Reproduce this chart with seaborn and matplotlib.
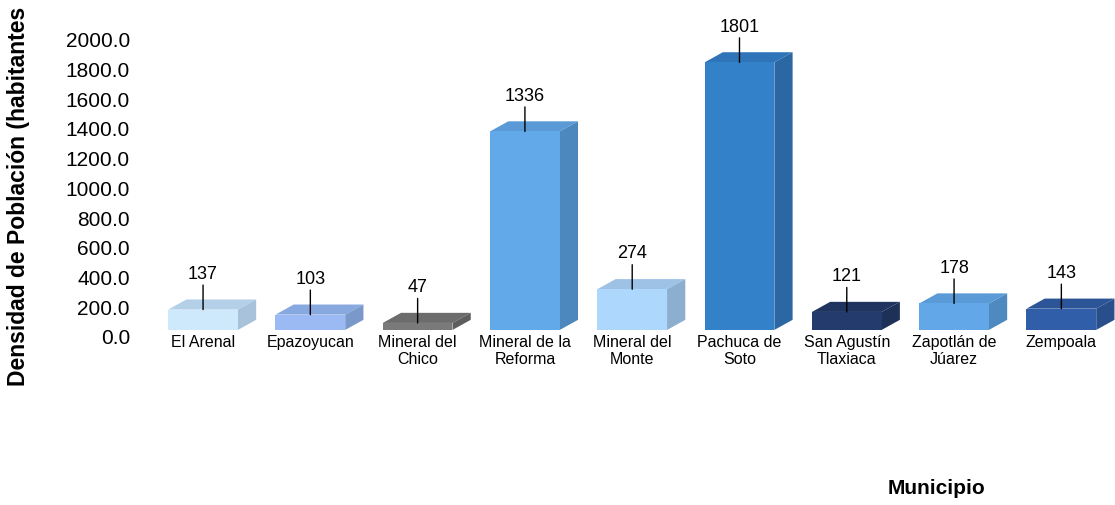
import numpy as np
import pandas as pd
import matplotlib
matplotlib.use("Agg")
import matplotlib.pyplot as plt
import matplotlib.transforms as mtransforms
from matplotlib.patches import Polygon
import seaborn as sns

# data
municipios = ["El Arenal", "Epazoyucan", "Mineral del\nChico", "Mineral de la\nReforma",
              "Mineral del\nMonte", "Pachuca de\nSoto", "San Agustín\nTlaxiaca",
              "Zapotlán de\nJúarez", "Zempoala"]
densidad = [137, 103, 47, 1336, 274, 1801, 121, 178, 143]
yticks = [0, 200, 400, 600, 800, 1000, 1200, 1400, 1600, 1800, 2000]

# colours for each bar: front face, top face, side face
front_cols = ["#cfe9fc", "#9bb9f2", "#7a7a7a", "#62a9e9", "#aed7fd",
              "#3381c9", "#233c6d", "#62a8e8", "#305ea9"]
top_cols = ["#b4cfe8", "#88a8e0", "#6c6c6c", "#5a9ad6", "#9dc2e6",
            "#2f74b8", "#1f3560", "#5a9ad6", "#2b5597"]
side_cols = ["#a8c2db", "#7b98cb", "#5e5e5e", "#4c87bd", "#8caecf",
             "#2b67a3", "#1c3058", "#4e89c0", "#294e8c"]

df = pd.DataFrame({"Municipio": municipios, "Densidad": densidad})

sns.set_style("white")
plt.rcParams["font.family"] = ["Liberation Sans", "DejaVu Sans"]
plt.rcParams["text.color"] = "black"
plt.rcParams["xtick.color"] = "black"
plt.rcParams["ytick.color"] = "black"

fig = plt.figure(figsize=(11.15, 5.06), dpi=100)
ax = fig.add_axes([0.134, 0.346, 0.866, 0.646])

sns.barplot(data=df, x="Municipio", y="Densidad", hue="Municipio", palette=front_cols,
            legend=False, width=0.65, saturation=1, ax=ax, edgecolor="none", zorder=3)

# fake 3D: top and side faces from each bar's geometry
dx, dy = 0.17, 68
for i, bar in enumerate(ax.patches[:len(densidad)]):
    x0 = bar.get_x()
    x1 = x0 + bar.get_width()
    v = bar.get_height()
    top = Polygon([(x0, v), (x1, v), (x1 + dx, v + dy), (x0 + dx, v + dy)],
                  closed=True, facecolor=top_cols[i], edgecolor="none", zorder=2)
    side = Polygon([(x1, 0), (x1, v), (x1 + dx, v + dy), (x1 + dx, dy)],
                   closed=True, facecolor=side_cols[i], edgecolor="none", zorder=2)
    ax.add_patch(top)
    ax.add_patch(side)
    ax.annotate(str(densidad[i]), xy=(x0 + bar.get_width() / 2, v), xytext=(0, 20),
                textcoords="offset points", ha="center", va="bottom", fontsize=13,
                arrowprops=dict(arrowstyle="-", color="black", lw=1, shrinkA=0, shrinkB=0),
                zorder=5)

ax.set_xlim(-0.5, 8.5)
ax.set_ylim(0, 2200)
ax.set_yticks(yticks)
ax.set_yticklabels([f"{t:.1f}" for t in yticks], fontsize=15)
ax.tick_params(axis="y", length=0, pad=14)
ax.tick_params(axis="x", length=0, pad=3, labelsize=11.5)
ax.set_xlabel("")
ax.set_ylabel("")
sns.despine(ax=ax, left=True, bottom=True)

# tick labels sit a little lower than the bar floor
shift = mtransforms.ScaledTranslation(0, -6 / 100, fig.dpi_scale_trans)
for lab in ax.get_yticklabels():
    lab.set_transform(lab.get_transform() + shift)

# the reference shows the axis title truncated at the top edge
fig.text(0.017, (506 - 386) / 506, "Densidad de Población (habitantes", rotation=90,
         ha="center", va="bottom", fontsize=16.5, fontweight="bold")
fig.text(0.84, 0.015, "Municipio", ha="center", va="bottom", fontsize=15, fontweight="bold")

fig.savefig("out.png", dpi=100)
